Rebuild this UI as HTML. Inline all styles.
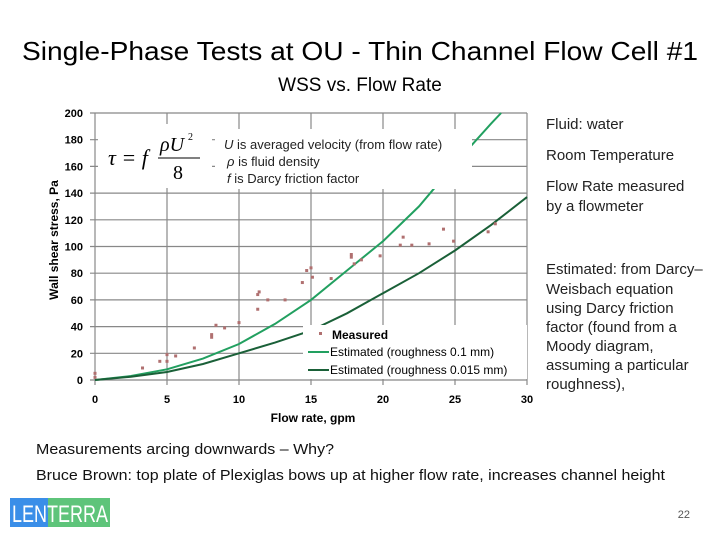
<!DOCTYPE html>
<html><head><meta charset="utf-8"><style>
html,body{margin:0;padding:0;background:#fff;width:720px;height:540px;overflow:hidden}
svg{display:block;font-family:"Liberation Sans",sans-serif}
</style></head><body>
<svg id="s" width="720" height="540" viewBox="0 0 720 540">
<text x="22" y="60" font-size="26" fill="#000" textLength="676" lengthAdjust="spacingAndGlyphs">Single-Phase Tests at OU - Thin Channel Flow Cell #1</text>
<text x="360" y="91" text-anchor="middle" font-size="19" fill="#000">WSS vs. Flow Rate</text>
<g id="grid"></g>
<g id="xt"></g>
<g id="yt"></g>
<g id="series"></g>
<rect x="98" y="124" width="114" height="64" fill="#fff"/>
<g font-family="'Liberation Serif',serif" font-style="italic">
<text x="108" y="165" font-size="22">τ = f</text>
<text x="160" y="151" font-size="20">ρU</text>
<text x="188" y="140" font-size="10" font-style="normal">2</text>
<line x1="158" y1="158" x2="200" y2="158" stroke="#000" stroke-width="1"/>
<text x="173" y="179" font-size="20" font-style="normal">8</text>
</g>
<rect x="215" y="129" width="257" height="60" fill="#fff"/>
<g font-size="13" fill="#222">
<text x="224" y="149"><tspan font-style="italic">U</tspan>  is averaged velocity (from flow rate)</text>
<text x="227" y="166"><tspan font-style="italic">ρ</tspan>  is fluid density</text>
<text x="227" y="183"><tspan font-style="italic">f</tspan>   is Darcy friction factor</text>
</g>
<rect x="303" y="325" width="224" height="54" fill="#fff"/>
<g font-size="12" font-weight="bold" fill="#000">
<rect x="319" y="332" width="3" height="3" fill="#b07070"/>
<text x="332" y="339">Measured</text>
<line x1="308" y1="352" x2="329" y2="352" stroke="#22a060" stroke-width="2"/>
<text x="330" y="356" font-weight="normal">Estimated  (roughness 0.1 mm)</text>
<line x1="308" y1="370" x2="329" y2="370" stroke="#1a6038" stroke-width="2"/>
<text x="330" y="374" font-weight="normal">Estimated (roughness 0.015 mm)</text>
</g>
<text transform="translate(58,240) rotate(-90)" text-anchor="middle" font-size="12" font-weight="bold">Wall shear stress, Pa</text>
<text x="313" y="422" text-anchor="middle" font-size="12" font-weight="bold">Flow rate, gpm</text>
<g font-size="15" fill="#222">
<text x="546" y="129">Fluid: water</text>
<text x="546" y="160">Room Temperature</text>
<text x="546" y="191">Flow Rate measured</text>
<text x="546" y="211">by a flowmeter</text>
<text x="546" y="274">Estimated: from Darcy–</text>
<text x="546" y="294">Weisbach equation</text>
<text x="546" y="313">using Darcy friction</text>
<text x="546" y="332">factor (found from a</text>
<text x="546" y="351">Moody diagram,</text>
<text x="546" y="370">assuming a particular</text>
<text x="546" y="389">roughness),</text>
</g>
<text x="36" y="454" font-size="15" fill="#111" textLength="298" lengthAdjust="spacingAndGlyphs">Measurements arcing downwards – Why?</text>
<text x="36" y="480" font-size="15" fill="#111" textLength="629" lengthAdjust="spacingAndGlyphs">Bruce Brown: top plate of Plexiglas bows up at higher flow rate, increases channel height</text>
<rect x="10" y="498" width="38" height="29" fill="#3a8ee8"/>
<rect x="48" y="498" width="62" height="29" fill="#5ec47a"/>
<text x="12" y="522" font-size="24" fill="#fff" textLength="96" lengthAdjust="spacingAndGlyphs">LENTERRA</text>
<text x="690" y="518" text-anchor="end" font-size="11" fill="#555">22</text>
</svg>
<script>
const xTicks=[0,5,10,15,20,25,30];
const yTicks=[0,20,40,60,80,100,120,140,160,180,200];
const roughX=[0,2.5,5,7.5,10,12.5,15,17.5,20,22.5,25,27.5,28.2];
const roughY=[0,3,8,16,27,42,60,82,104,130,162,192,200];
const smoothX=[0,2.5,5,7.5,10,12.5,15,17.5,20,22.5,25,27.5,30];
const smoothY=[0,2.5,6,12,20,28,37,50,65,80,97,116,137];
const measX=[0,0,3.3,4.5,5,5,5.6,6.9,8.1,8.1,8.4,9,10,11.3,11.3,11.4,12,13.2,14.4,14.7,15,15.1,16.4,17.8,17.8,18,18.5,19.8,21.2,21.4,22,23.2,24.2,24.9,27.3,27.8];
const measY=[2,5,9,14,14,19,18,24,32,34,41,39,43,53,64,66,60,60,73,82,84,77,76,94,92,87,90,93,101,107,101,102,113,104,111,117];
const X0=95,X1=527,Y0=380,Y1=113;
const sx=v=>X0+(v-0)/30*(X1-X0);
const sy=v=>Y0-(v-0)/200*(Y0-Y1);
const NS="http://www.w3.org/2000/svg";
function mk(t,a,p){const e=document.createElementNS(NS,t);for(const k in a)e.setAttribute(k,a[k]);p.appendChild(e);return e;}
const grid=document.getElementById('grid'),xt=document.getElementById('xt'),yt=document.getElementById('yt'),ser=document.getElementById('series');
yTicks.forEach(v=>{
 const l=mk('line',{x1:X0-5,x2:X1,y1:sy(v),y2:sy(v),stroke:'#888','stroke-width':1.2},grid);
 
 
 const t=mk('text',{x:X0-12,y:sy(v)+4,'text-anchor':'end','font-size':11,'font-weight':'bold'},yt);
 t.textContent=v;
 
 
});
xTicks.forEach(v=>{
 const l=mk('line',{x1:sx(v),x2:sx(v),y1:Y1,y2:Y0+5,stroke:'#888','stroke-width':1.2},grid);
 
 
 const t=mk('text',{x:sx(v),y:Y0+23,'text-anchor':'middle','font-size':11,'font-weight':'bold'},xt);
 t.textContent=v;
 
 
});
function curve(xs,ys,c,name){
 const d=xs.map((x,i)=>(i?'L':'M')+sx(x).toFixed(1)+','+sy(ys[i]).toFixed(1)).join(' ');
 const p=mk('path',{d:d,fill:'none',stroke:c,'stroke-width':2},ser);
 
 
}
curve(roughX,roughY,'#22a060','line-roughness-0-1mm');
curve(smoothX,smoothY,'#1a6038','line-roughness-0-015mm');
measX.forEach((x,i)=>{
 const r=mk('rect',{x:sx(x)-1.5,y:sy(measY[i])-1.5,width:3,height:3,fill:'#b07070'},ser);
 
 
});
</script>
</body></html>
